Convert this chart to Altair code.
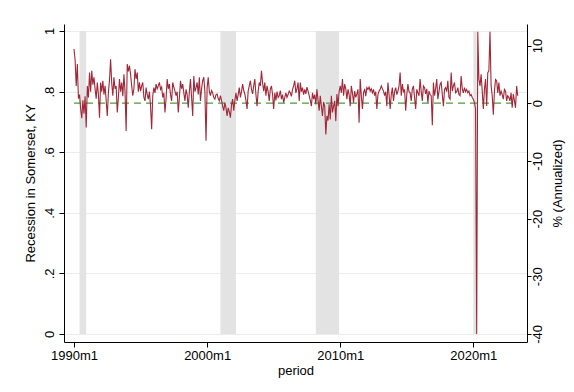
import altair as alt
import pandas as pd

# Monthly growth, % annualized, 1990m1 .. 2023m5
y1990 = [9.4, 7.5, 3.0, 6.8, 0.8, 1.5, -1.0, -2.6, 0.5, -1.8, 1.2, -4.2]
y1991 = [3.0, 1.0, 5.3, 2.0, 5.6, 3.2, 4.5, 2.5, 0.8, 3.6, 1.5, -2.5]
y1992 = [3.6, 2.0, 3.9, 1.5, 3.0, 0.5, -2.2, 1.8, 4.0, 7.6, 3.5, 1.3]
y1993 = [4.5, 2.5, 3.0, -1.6, 1.0, 4.2, 2.0, 3.6, 1.2, 5.0, 2.0, -4.8]
y1994 = [6.8, 5.5, 6.5, 5.0, 3.0, 1.3, 2.5, 5.9, 4.2, 5.3, 2.0, 3.6]
y1995 = [2.1, 3.0, 3.6, 1.0, 0.4, 2.7, 1.5, 0.7, 2.0, -0.5, -4.5, 1.3]
y1996 = [2.7, 1.8, 3.3, 2.5, 3.0, 3.6, 2.4, 2.8, 1.0, 1.8, -1.6, 0.8]
y1997 = [4.2, 2.5, 3.3, 1.5, 0.4, 3.6, 2.8, 2.1, 1.3, 2.0, -1.6, 1.0]
y1998 = [3.9, 2.5, 3.3, 1.8, 0.4, 2.4, 1.5, -0.8, 2.0, 4.2, 1.0, -2.2]
y1999 = [4.7, 2.0, 2.7, 3.6, 1.5, 4.5, 0.4, 2.5, 3.9, 4.5, 2.0, -6.5]
y2000 = [2.7, 4.5, 2.0, 1.3, 2.2, 1.8, 1.0, 0.7, 1.5, 1.6, 0.8, 0.4]
y2001 = [1.3, 0.5, -0.5, -1.3, 0.1, -0.8, -2.2, -0.8, -1.5, -2.5, -0.3, 0.7]
y2002 = [-1.3, 0.5, 1.8, 0.4, 1.5, 2.7, 1.0, 2.0, 3.3, 2.2, 1.6, 0.5]
y2003 = [-1.0, 2.1, 3.0, 3.9, 2.4, 1.6, 3.0, 4.2, 1.5, -0.5, 2.0, 3.6]
y2004 = [3.0, 5.6, 3.5, 2.1, 3.6, 1.3, 3.0, 2.0, 0.4, 2.5, 3.0, 1.5]
y2005 = [-1.0, 1.8, 0.5, 2.0, 1.0, 1.3, 2.2, 0.7, 1.5, 0.1, 1.0, 1.8]
y2006 = [1.0, 1.5, 2.1, 1.8, 1.2, 2.4, 3.0, 3.9, 1.8, 2.5, 3.6, 0.4]
y2007 = [3.6, 2.0, 2.7, 1.5, 2.4, 1.6, 2.8, 2.1, 1.3, 0.5, -0.5, 1.8]
y2008 = [0.7, 1.5, -0.2, 2.4, 0.5, -1.3, 1.3, -0.5, -2.2, 0.2, -0.5, -5.4]
y2009 = [-2.2, -3.0, -0.2, -2.8, 1.3, -1.6, -0.5, 0.4, -3.1, 1.6, -0.5, 2.0]
y2010 = [3.0, 1.8, 4.2, 1.3, 3.3, 2.5, 0.7, 2.4, 1.5, -0.5, 3.0, 1.8]
y2011 = [0.1, 2.1, 1.0, 1.6, 2.4, -3.4, 4.2, 1.3, -1.0, 1.8, 2.5, 1.2]
y2012 = [2.7, 2.4, 2.8, 2.1, 2.5, 1.8, 2.4, 1.3, 2.0, -1.0, 1.5, 2.1]
y2013 = [2.4, 3.0, 2.5, 2.1, 1.3, 2.0, -0.5, 3.6, 1.5, -1.0, 1.5, 2.7]
y2014 = [0.4, 2.0, 2.7, 1.5, 2.1, 3.0, 5.3, 1.3, 3.3, 2.0, 2.4, -1.3]
y2015 = [1.5, 3.3, 2.0, 1.8, 0.4, 2.5, 3.0, 1.0, -1.0, 2.4, 1.8, 1.3]
y2016 = [4.2, 2.0, 0.4, 3.0, 2.7, 1.6, 2.5, 0.1, 2.1, 1.5, 1.3, -3.8]
y2017 = [3.6, 1.3, 2.5, 4.2, 0.7, 2.0, 3.3, 3.6, 1.5, -0.5, 2.4, 2.7]
y2018 = [2.0, 3.9, 1.0, 0.7, 5.3, 2.1, 3.0, 3.6, 1.8, 2.0, 2.7, 1.5]
y2019 = [1.3, 4.7, 2.5, 1.8, 2.7, 2.0, 2.4, 1.8, 2.1, 1.3, 1.5, 1.0]
y2020 = [0.7, 0.1, -1.0, -40.0, 12.4, 4.2, 3.0, 5.0, 2.1, -1.0, 2.4, 4.2]
y2021 = [-0.5, 5.3, 5.6, 12.4, 3.0, 1.3, -2.0, 2.1, 4.1, 3.9, 1.8, 3.6]
y2022 = [1.3, 2.1, 1.5, 0.7, 2.4, 2.1, 0.4, 1.3, 1.0, 0.4, 1.8, -0.8]
y2023 = [1.6, 0.5, -0.8, 3.0, 1.3]

# Recession periods in Somerset, KY (indicator = 1)
rec_start = ["1990m6", "2001m1", "2008m3", "2020m1"]
rec_end = ["1990m12", "2002m3", "2009m12", "2020m4"]

x_ticks = [1990, 2000, 2010, 2020]
left_ticks = [0, 0.2, 0.4, 0.6, 0.8, 1]
right_ticks = [-40, -30, -20, -10, 0, 10]

growth = (y1990 + y1991 + y1992 + y1993 + y1994 + y1995 + y1996 + y1997 + y1998
          + y1999 + y2000 + y2001 + y2002 + y2003 + y2004 + y2005 + y2006 + y2007
          + y2008 + y2009 + y2010 + y2011 + y2012 + y2013 + y2014 + y2015 + y2016
          + y2017 + y2018 + y2019 + y2020 + y2021 + y2022 + y2023)


def ym(s):
    y, m = s.split("m")
    return int(y) + (int(m) - 1) / 12.0


df = pd.DataFrame({
    "t": [1990 + i / 12.0 for i in range(len(growth))],
    "g": growth,
})
df["zero"] = 0.0

rec = pd.DataFrame({
    "start": [ym(s) for s in rec_start],
    "end": [ym(s) for s in rec_end],
    "rec": [1] * len(rec_start),
})

FONT = "Liberation Sans"

x_scale = alt.Scale(domain=[1989.249, 2024.03], nice=False, zero=False)
x_axis = alt.Axis(values=x_ticks, labelExpr="format(datum.value, 'd') + 'm1'",
                  title="period", grid=False, tickSize=5, labelPadding=2,
                  titlePadding=2, labelFlush=False)

left_scale = alt.Scale(domain=[-0.0264, 1.0231], nice=False, zero=False)
right_scale = alt.Scale(domain=[-41.39, 13.73], nice=False, zero=False)

right_axis = alt.Axis(orient="right", values=right_ticks,
                      labelExpr="'' + datum.value",
                      title="% (Annualized)", grid=False,
                      labelAngle=270, labelAlign="center", labelBaseline="top",
                      titleAngle=270, titleBaseline="top",
                      tickSize=4, labelPadding=0, titlePadding=7)

bars = alt.Chart(rec).mark_rect(color="#e3e3e3").encode(
    x=alt.X("start:Q", scale=x_scale, axis=x_axis),
    x2="end:Q",
    y=alt.Y("rec:Q", scale=left_scale,
            axis=alt.Axis(orient="left", values=left_ticks,
                          labelExpr="datum.value == 0 ? '0' : datum.value == 1 ? '1' : replace(format(datum.value, '.1f'), '0.', '.')",
                          title="Recession in Somerset, KY", grid=True,
                          gridColor="#ececec", gridWidth=1,
                          labelAngle=270, labelAlign="center", labelBaseline="bottom",
                          titleAngle=270, tickSize=5, labelPadding=3, titlePadding=6)),
    y2=alt.Y2Datum(0),
)

red = alt.Chart(df).mark_line(color="#a02838", strokeWidth=1.1).encode(
    x=alt.X("t:Q", scale=x_scale, axis=x_axis),
    y=alt.Y("g:Q", scale=right_scale, axis=right_axis, title="% (Annualized)"),
)

green = alt.Chart(df).mark_line(color="#4c9a3c", strokeWidth=1.2, strokeDash=[7, 5]).encode(
    x=alt.X("t:Q", scale=x_scale, axis=x_axis),
    y=alt.Y("zero:Q", scale=right_scale, axis=right_axis, title="% (Annualized)"),
)

chart = alt.layer(bars, alt.layer(green, red)).resolve_scale(
    y="independent"
).properties(
    width=463, height=318,
    autosize=alt.AutoSizeParams(type="none"),
    padding={"left": 56, "top": 16, "right": 39, "bottom": 38},
    background="white",
).configure_view(stroke=None).configure_axis(
    labelFont=FONT, titleFont=FONT, labelFontSize=13, titleFontSize=13,
    labelColor="black", titleColor="black", titleFontWeight="normal",
    domainColor="black", tickColor="black", domainWidth=1, tickWidth=1,
)

chart.save("out.html", embed_options={"renderer": "svg", "actions": False})
